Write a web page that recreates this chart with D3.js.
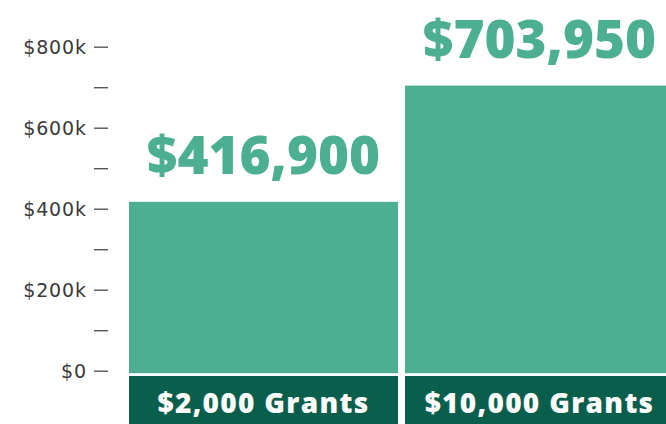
<!DOCTYPE html>
<html>
<head>
<meta charset="utf-8">
<script src="https://cdn.jsdelivr.net/npm/d3@7"></script>
<style>
  html, body { margin: 0; padding: 0; background: #fff; }
  svg { display: block; }
</style>
</head>
<body>
<svg id="chart" width="666" height="424"></svg>
<script>
const categories = ["$2,000 Grants", "$10,000 Grants"];
const values = [416900, 703950];
const valueLabels = ["$416,900", "$703,950"];
const majorTicks = [0, 200000, 400000, 600000, 800000];
const minorTicks = [100000, 300000, 500000, 700000];
const tickLabels = ["$0", "$200k", "$400k", "$600k", "$800k"];

const svg = d3.select("#chart");
const barColor = "#4caf91";
const darkColor = "#0a5e4c";
const font = "'Open Sans', sans-serif";

const y = d3.scaleLinear().domain([0, 800000]).range([370.7, 46.7]);
const x = d3.scaleBand().domain(categories).range([129, 674]).paddingInner(0.0254).paddingOuter(0);

// Axis
const axisG = svg.append("g").attr("transform", "translate(108,0)");
const axis = d3.axisLeft(y).tickValues(majorTicks).tickSize(14).tickPadding(7)
  .tickFormat(d => tickLabels[majorTicks.indexOf(d)]);
axisG.call(axis);
axisG.select(".domain").remove();
axisG.selectAll(".tick line").attr("stroke", "#555").attr("stroke-width", 1.4);
axisG.selectAll(".tick text")
  .attr("fill", "#3a3a3a")
  .attr("dy", "0.36em")
  .style("font-family", "'DejaVu Sans', sans-serif")
  .style("font-size", "19px")
  .style("letter-spacing", "0.9px");

const minorG = svg.append("g").attr("transform", "translate(108,0)");
minorG.call(d3.axisLeft(y).tickValues(minorTicks).tickSize(14).tickFormat(""));
minorG.select(".domain").remove();
minorG.selectAll(".tick line").attr("stroke", "#555").attr("stroke-width", 1.4);

// Bars
svg.append("g").selectAll("rect")
  .data(values)
  .join("rect")
  .attr("x", (d, i) => x(categories[i]))
  .attr("width", x.bandwidth())
  .attr("y", d => y(d))
  .attr("height", d => y(0) + 2.5 - y(d))
  .attr("fill", barColor);

// Value labels
svg.append("g").selectAll("text")
  .data(values)
  .join("text")
  .attr("x", (d, i) => x(categories[i]) + x.bandwidth() / 2)
  .attr("y", d => y(d) - 28)
  .attr("text-anchor", "middle")
  .attr("fill", barColor)
  .style("font-family", font)
  .style("font-weight", 800)
  .style("font-size", "53px")
  .text((d, i) => valueLabels[i]);

// Category boxes
svg.append("g").selectAll("rect")
  .data(categories)
  .join("rect")
  .attr("x", d => x(d))
  .attr("width", x.bandwidth())
  .attr("y", y(0) + 5.3)
  .attr("height", 60)
  .attr("fill", darkColor);

svg.append("g").selectAll("text")
  .data(categories)
  .join("text")
  .attr("x", d => x(d) + x.bandwidth() / 2)
  .attr("y", y(0) + 42.5)
  .attr("text-anchor", "middle")
  .attr("fill", "#fff")
  .style("font-family", font)
  .style("font-weight", 800)
  .style("font-size", "28px")
  .style("letter-spacing", "1.3px")
  .text(d => d);
</script>
</body>
</html>
